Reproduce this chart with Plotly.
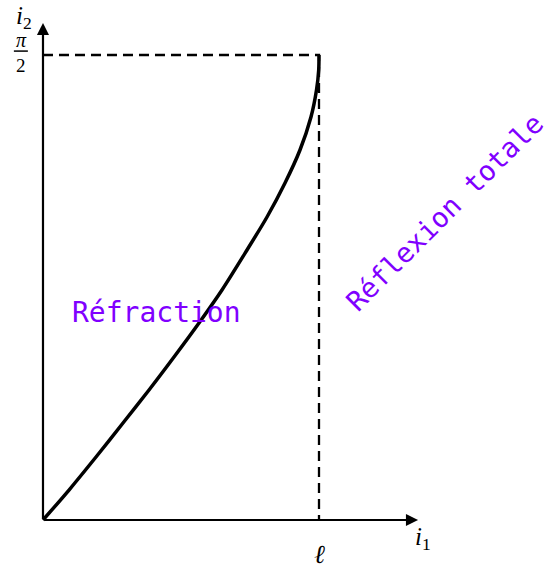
import plotly.graph_objects as go
import math

# Critical angle and the quarter turn (radians)
L_CRIT = 0.73
HALF_PI = math.pi / 2

# Refraction angle i2 against incidence angle i1
i1_vals = [0.0, 0.0688, 0.1402, 0.2116, 0.2804, 0.3465, 0.4126, 0.4734,
           0.5396, 0.5925, 0.6401, 0.6797, 0.7088, 0.7234, 0.7292, 0.73]
i2_vals = [0.0, 0.1013, 0.2128, 0.3277, 0.4392, 0.5506, 0.6655, 0.7770,
           0.9121, 1.0236, 1.1384, 1.2499, 1.3614, 1.4526, 1.5201, HALF_PI]

X_RANGE = [-0.1137, 1.3436]
Y_RANGE = [-0.1689, 1.7566]
X_TIP = 0.992
Y_TIP = 1.679

PURPLE = "#8000ff"
SERIF = "Liberation Serif"
MONO = "DejaVu Sans Mono"

fig = go.Figure()

# Dashed guides at the critical angle and at pi/2
fig.add_trace(go.Scatter(x=[0, L_CRIT, L_CRIT], y=[HALF_PI, HALF_PI, 0],
                         mode="lines", line=dict(color="black", width=2.3, dash="10px,6px"),
                         hoverinfo="skip", showlegend=False))

# Refraction curve
fig.add_trace(go.Scatter(x=i1_vals, y=i2_vals, mode="lines",
                         line=dict(color="black", width=3.5, shape="spline", smoothing=0.8),
                         hoverinfo="skip", showlegend=False))

annotations = [
    # axes with arrowheads
    dict(x=X_TIP, y=0, ax=0, ay=0, xref="x", yref="y", axref="x", ayref="y",
         showarrow=True, arrowhead=2, arrowsize=1.1, arrowwidth=2.2, arrowcolor="black", text=""),
    dict(x=0, y=Y_TIP, ax=0, ay=0, xref="x", yref="y", axref="x", ayref="y",
         showarrow=True, arrowhead=2, arrowsize=1.1, arrowwidth=2.2, arrowcolor="black", text=""),
    # axis labels
    dict(x=-0.050, y=1.697, text="<i>i</i><sub>2</sub>", showarrow=False,
         font=dict(family=SERIF, size=25, color="black")),
    dict(x=1.004, y=-0.061, text="<i>i</i><sub>1</sub>", showarrow=False,
         font=dict(family=SERIF, size=25, color="black")),
    dict(x=L_CRIT, y=-0.118, text="<i>ℓ</i>", showarrow=False,
         font=dict(family=SERIF, size=26, color="black")),
    # pi/2 tick label as a fraction
    dict(x=-0.058, y=1.620, text="<i>π</i>", showarrow=False,
         font=dict(family=SERIF, size=20, color="black")),
    dict(x=-0.058, y=1.537, text="2", showarrow=False,
         font=dict(family=SERIF, size=19, color="black")),
    # region labels
    dict(x=0.299, y=0.7026, text="Réfraction", showarrow=False,
         font=dict(family=MONO, size=28, color=PURPLE)),
    dict(x=1.062, y=1.0405, text="Réflexion totale", showarrow=False, textangle=-45,
         font=dict(family=MONO, size=27.5, color=PURPLE)),
]

shapes = [
    # fraction bar of pi/2
    dict(type="line", xref="x", yref="y", x0=-0.077, x1=-0.040, y0=1.584, y1=1.584,
         line=dict(color="black", width=1.5)),
]

fig.update_layout(
    width=551, height=570, autosize=False,
    margin=dict(l=0, r=0, t=0, b=0),
    paper_bgcolor="white", plot_bgcolor="white",
    xaxis=dict(range=X_RANGE, visible=False, fixedrange=True),
    yaxis=dict(range=Y_RANGE, visible=False, fixedrange=True),
    annotations=annotations, shapes=shapes,
)

fig.write_html("out.html")
